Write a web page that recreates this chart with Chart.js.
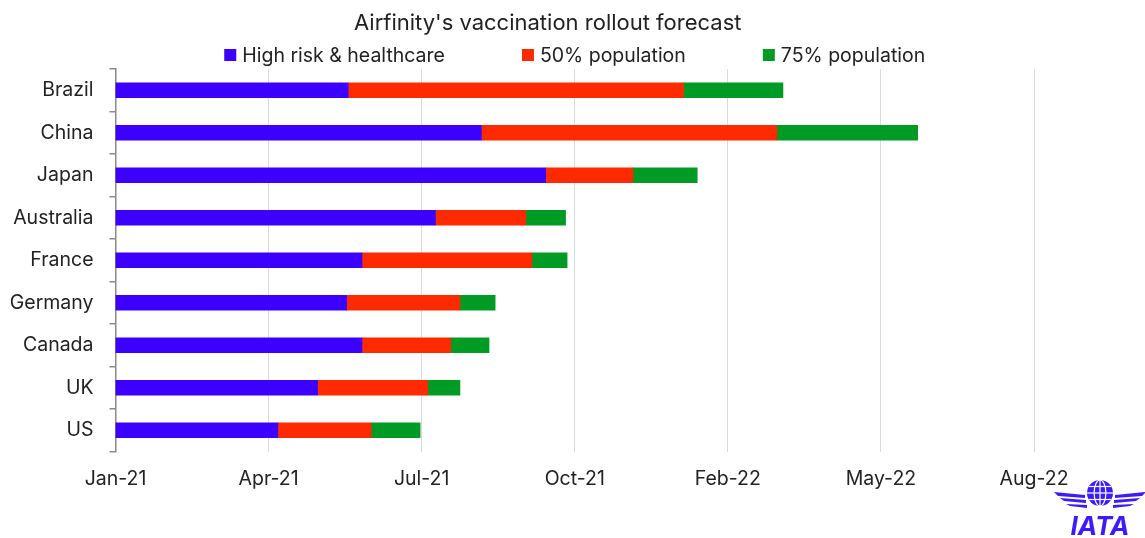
<!DOCTYPE html>
<html>
<head>
<meta charset="utf-8">
<script src="https://cdn.jsdelivr.net/npm/chart.js@4"></script>
<style>
  html, body { margin: 0; padding: 0; background: #ffffff; }
  #wrap { width: 1145px; height: 538px; }
</style>
</head>
<body>
<div id="wrap"><canvas id="c" width="1145" height="538"></canvas></div>
<script>
// ---- data (durations in days from 1 Jan 2021, stacked) ----
const categories = ['Brazil', 'China', 'Japan', 'Australia', 'France', 'Germany', 'Canada', 'UK', 'US'];
const highRiskDays = [152, 239, 281, 209, 161, 151, 161, 132, 106];
const pop50Days    = [219, 193, 57, 59, 111, 74, 58, 72, 61];
const pop75Days    = [65, 92, 42, 26, 23, 23, 25, 21, 32];
const seriesNames  = ['High risk & healthcare', '50% population', '75% population'];
const xTickLabels  = ['Jan-21', 'Apr-21', 'Jul-21', 'Oct-21', 'Feb-22', 'May-22', 'Aug-22'];
const chartTitle   = "Airfinity's vaccination rollout forecast";

const FONT = 'Inter, "Liberation Sans", Arial, sans-serif';
const COLORS = ['#3c00ff', '#ff2a00', '#009b25'];

const titleLegendPlugin = {
  id: 'titleLegend',
  afterDraw(chart) {
    const ctx = chart.ctx;
    const area = chart.chartArea;
    ctx.save();
    // title
    ctx.fillStyle = '#222222';
    ctx.font = '22px ' + FONT;
    ctx.textAlign = 'center';
    ctx.textBaseline = 'middle';
    ctx.fillText(chartTitle, (area.left + area.right) / 2 - 27, 23);
    // legend
    ctx.font = '19.5px ' + FONT;
    const box = 12, gap = 6, itemGap = 77;
    const items = chart.data.datasets.map(d => ({ label: d.label, color: d.backgroundColor }));
    const widths = items.map(it => box + gap + ctx.measureText(it.label).width);
    const total = widths.reduce((a, b) => a + b, 0) + itemGap * (items.length - 1);
    let x = (area.left + area.right) / 2 - total / 2;
    const y = 55;
    ctx.textAlign = 'left';
    items.forEach((it, i) => {
      ctx.fillStyle = it.color;
      ctx.fillRect(x, y - box / 2, box, box);
      ctx.fillStyle = '#222222';
      ctx.fillText(it.label, x + box + gap, y + 1);
      x += widths[i] + itemGap;
    });
    // IATA mark
    const cx = 1100, cy = 493, r = 13;
    ctx.fillStyle = '#3c1cff';
    ctx.beginPath(); ctx.arc(cx, cy, r, 0, Math.PI * 2); ctx.fill();
    ctx.strokeStyle = '#ffffff'; ctx.lineWidth = 1.2;
    ctx.beginPath(); ctx.ellipse(cx, cy, r * 0.45, r, 0, 0, Math.PI * 2); ctx.stroke();
    ctx.beginPath(); ctx.moveTo(cx, cy - r); ctx.lineTo(cx, cy + r); ctx.stroke();
    [-0.5, 0, 0.5].forEach(f => {
      const yy = cy + f * r;
      const hw = Math.sqrt(r * r - (f * r) * (f * r));
      ctx.beginPath(); ctx.moveTo(cx - hw, yy); ctx.lineTo(cx + hw, yy); ctx.stroke();
    });
    ctx.fillStyle = '#3c1cff';
    for (let k = 0; k < 3; k++) {
      const yy = cy + 2 + k * 5;
      const inner = r + 2 - k;
      const outer = 46 - k * 6;
      ctx.beginPath();
      ctx.moveTo(cx - inner, yy); ctx.lineTo(cx - outer, yy - 3 + k); ctx.lineTo(cx - outer + 4, yy + 1); ctx.lineTo(cx - inner, yy + 3);
      ctx.closePath(); ctx.fill();
      ctx.beginPath();
      ctx.moveTo(cx + inner, yy); ctx.lineTo(cx + outer, yy - 3 + k); ctx.lineTo(cx + outer - 4, yy + 1); ctx.lineTo(cx + inner, yy + 3);
      ctx.closePath(); ctx.fill();
    }
    ctx.font = 'italic bold 26px ' + FONT;
    ctx.textAlign = 'center';
    ctx.textBaseline = 'alphabetic';
    ctx.fillText('IATA', cx, 535);
    ctx.restore();
  }
};

new Chart(document.getElementById('c'), {
  type: 'bar',
  data: {
    labels: categories,
    datasets: [
      { label: seriesNames[0], data: highRiskDays, backgroundColor: COLORS[0] },
      { label: seriesNames[1], data: pop50Days, backgroundColor: COLORS[1] },
      { label: seriesNames[2], data: pop75Days, backgroundColor: COLORS[2] }
    ]
  },
  options: {
    indexAxis: 'y',
    responsive: false,
    animation: false,
    layout: { padding: { top: 69, right: 111, left: 0, bottom: 0 } },
    datasets: { bar: { barThickness: 15, borderWidth: 0 } },
    plugins: { legend: { display: false }, title: { display: false }, tooltip: { enabled: false } },
    scales: {
      x: {
        type: 'linear',
        stacked: true,
        min: 0,
        max: 600,
        afterFit(s) { s.height = 86.5; },
        border: { display: false },
        grid: {
          color: '#dadada',
          drawTicks: false,
          lineWidth: c => (c.tick && c.tick.value === 0 ? 0 : 1)
        },
        ticks: {
          stepSize: 100,
          autoSkip: false,
          maxRotation: 0,
          padding: 16,
          color: '#222222',
          font: { family: FONT, size: 19.5 },
          callback: (v, i) => xTickLabels[i]
        }
      },
      y: {
        stacked: true,
        afterFit(s) { s.width = 115.5; },
        border: { display: true, color: '#8a8a8a', width: 1.5 },
        grid: { offset: true, drawOnChartArea: false, drawTicks: true, tickLength: 6, color: '#8a8a8a', lineWidth: 1.5 },
        ticks: {
          padding: 16,
          color: '#222222',
          font: { family: FONT, size: 19.5 }
        }
      }
    }
  },
  plugins: [titleLegendPlugin]
});
</script>
</body>
</html>
